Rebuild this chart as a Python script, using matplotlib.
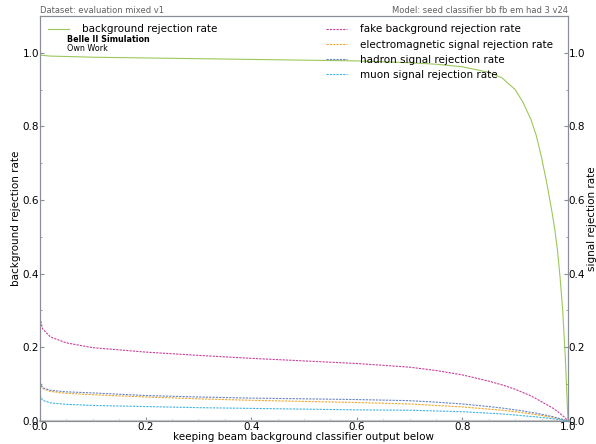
import numpy as np
import matplotlib
matplotlib.use('Agg')
import matplotlib.pyplot as plt
from matplotlib.ticker import MultipleLocator

# classifier cut values
x_cut = [0.0, 0.005, 0.02, 0.05, 0.1, 0.2, 0.3, 0.4, 0.5, 0.6, 0.7, 0.75, 0.8, 0.85, 0.875, 0.9, 0.915,
         0.93, 0.94, 0.95, 0.96, 0.97, 0.975, 0.98, 0.985, 0.99, 0.995, 1.0]

bkg_rej = [0.995, 0.993, 0.991, 0.99, 0.988, 0.986, 0.984, 0.982, 0.98, 0.978, 0.973, 0.969, 0.962, 0.947, 0.932, 0.90,
           0.865, 0.818, 0.775, 0.715, 0.645, 0.565, 0.52, 0.465, 0.39, 0.30, 0.17, 0.0]
fake_rej = [0.28, 0.25, 0.228, 0.212, 0.199, 0.187, 0.178, 0.170, 0.163, 0.156, 0.146, 0.137, 0.125, 0.108, 0.098, 0.086,
            0.077, 0.068, 0.060, 0.052, 0.044, 0.036, 0.031, 0.026, 0.020, 0.014, 0.008, 0.0]
em_rej = [0.105, 0.088, 0.080, 0.075, 0.071, 0.065, 0.060, 0.056, 0.053, 0.050, 0.046, 0.042, 0.038, 0.032, 0.029, 0.025,
          0.022, 0.019, 0.017, 0.015, 0.012, 0.010, 0.008, 0.007, 0.005, 0.004, 0.002, 0.0]
had_rej = [0.105, 0.090, 0.083, 0.079, 0.076, 0.069, 0.065, 0.062, 0.060, 0.058, 0.055, 0.051, 0.046, 0.039, 0.035, 0.030,
           0.027, 0.023, 0.021, 0.018, 0.015, 0.012, 0.010, 0.008, 0.006, 0.004, 0.002, 0.0]
mu_rej = [0.07, 0.056, 0.049, 0.045, 0.042, 0.039, 0.036, 0.034, 0.032, 0.030, 0.029, 0.027, 0.025, 0.021, 0.019, 0.016,
          0.014, 0.012, 0.011, 0.009, 0.008, 0.006, 0.005, 0.004, 0.003, 0.002, 0.001, 0.0]

spine_col = '#8a8f96'

fig = plt.figure(figsize=(5.96, 4.44), dpi=100)
ax = fig.add_axes([0.067, 0.052, 0.886, 0.912])
ax2 = ax.twinx()

ax.plot(x_cut, bkg_rej, color='#9cc85a', lw=0.8, label='background rejection rate')
ax2.plot(x_cut, fake_rej, color='#c8409c', lw=0.8, ls=(0, (2, 1)), label='fake background rejection rate')
ax2.plot(x_cut, em_rej, color='#f0a830', lw=0.8, ls=(0, (2, 1)), label='electromagnetic signal rejection rate')
ax2.plot(x_cut, had_rej, color='#6a84c4', lw=0.8, ls=(0, (2, 1)), label='hadron signal rejection rate')
ax2.plot(x_cut, mu_rej, color='#40b4e6', lw=0.8, ls=(0, (2, 1)), label='muon signal rejection rate')

for a in (ax, ax2):
    a.set_xlim(0, 1)
    a.set_ylim(0, 1.1)
    a.xaxis.set_major_locator(MultipleLocator(0.2))
    a.xaxis.set_minor_locator(MultipleLocator(0.05))
    a.yaxis.set_major_locator(MultipleLocator(0.2))
    a.yaxis.set_minor_locator(MultipleLocator(0.1))
    a.tick_params(which='both', direction='in', labelsize=7.5, pad=0.5, color=spine_col)
    a.tick_params(which='major', length=3)
    a.tick_params(which='minor', length=1.5)
    for s in a.spines.values():
        s.set_color(spine_col)
        s.set_linewidth(0.8)
ax.spines['bottom'].set_color('#c8c8c8')
ax.spines['bottom'].set_linewidth(1.5)

ax.set_xlabel('keeping beam background classifier output below', fontsize=7.5, labelpad=0)
ax.set_ylabel('background rejection rate', fontsize=7.5, labelpad=1)
ax2.set_ylabel('signal rejection rate', fontsize=7.5, labelpad=1)

ax.set_title('Dataset: evaluation mixed v1', loc='left', fontsize=6, color='#606060', pad=2)
ax.set_title('Model: seed classifier bb fb em had 3 v24', loc='right', fontsize=6, color='#606060', pad=2)

ax.legend(loc='upper left', frameon=False, fontsize=7.5, handlelength=2.0, handletextpad=1.2,
          borderaxespad=0.4)
ax2.legend(loc='upper right', bbox_to_anchor=(0.987, 1.0), frameon=False, fontsize=7.5, handlelength=2.0,
           handletextpad=1.2, borderaxespad=0.4, labelspacing=0.5)

ax.text(0.051, 0.954, 'Belle II Simulation', transform=ax.transAxes, fontsize=5.8, fontweight='bold', va='top')
ax.text(0.051, 0.93, 'Own Work', transform=ax.transAxes, fontsize=5.8, va='top')

fig.savefig('out.png', dpi=100)
